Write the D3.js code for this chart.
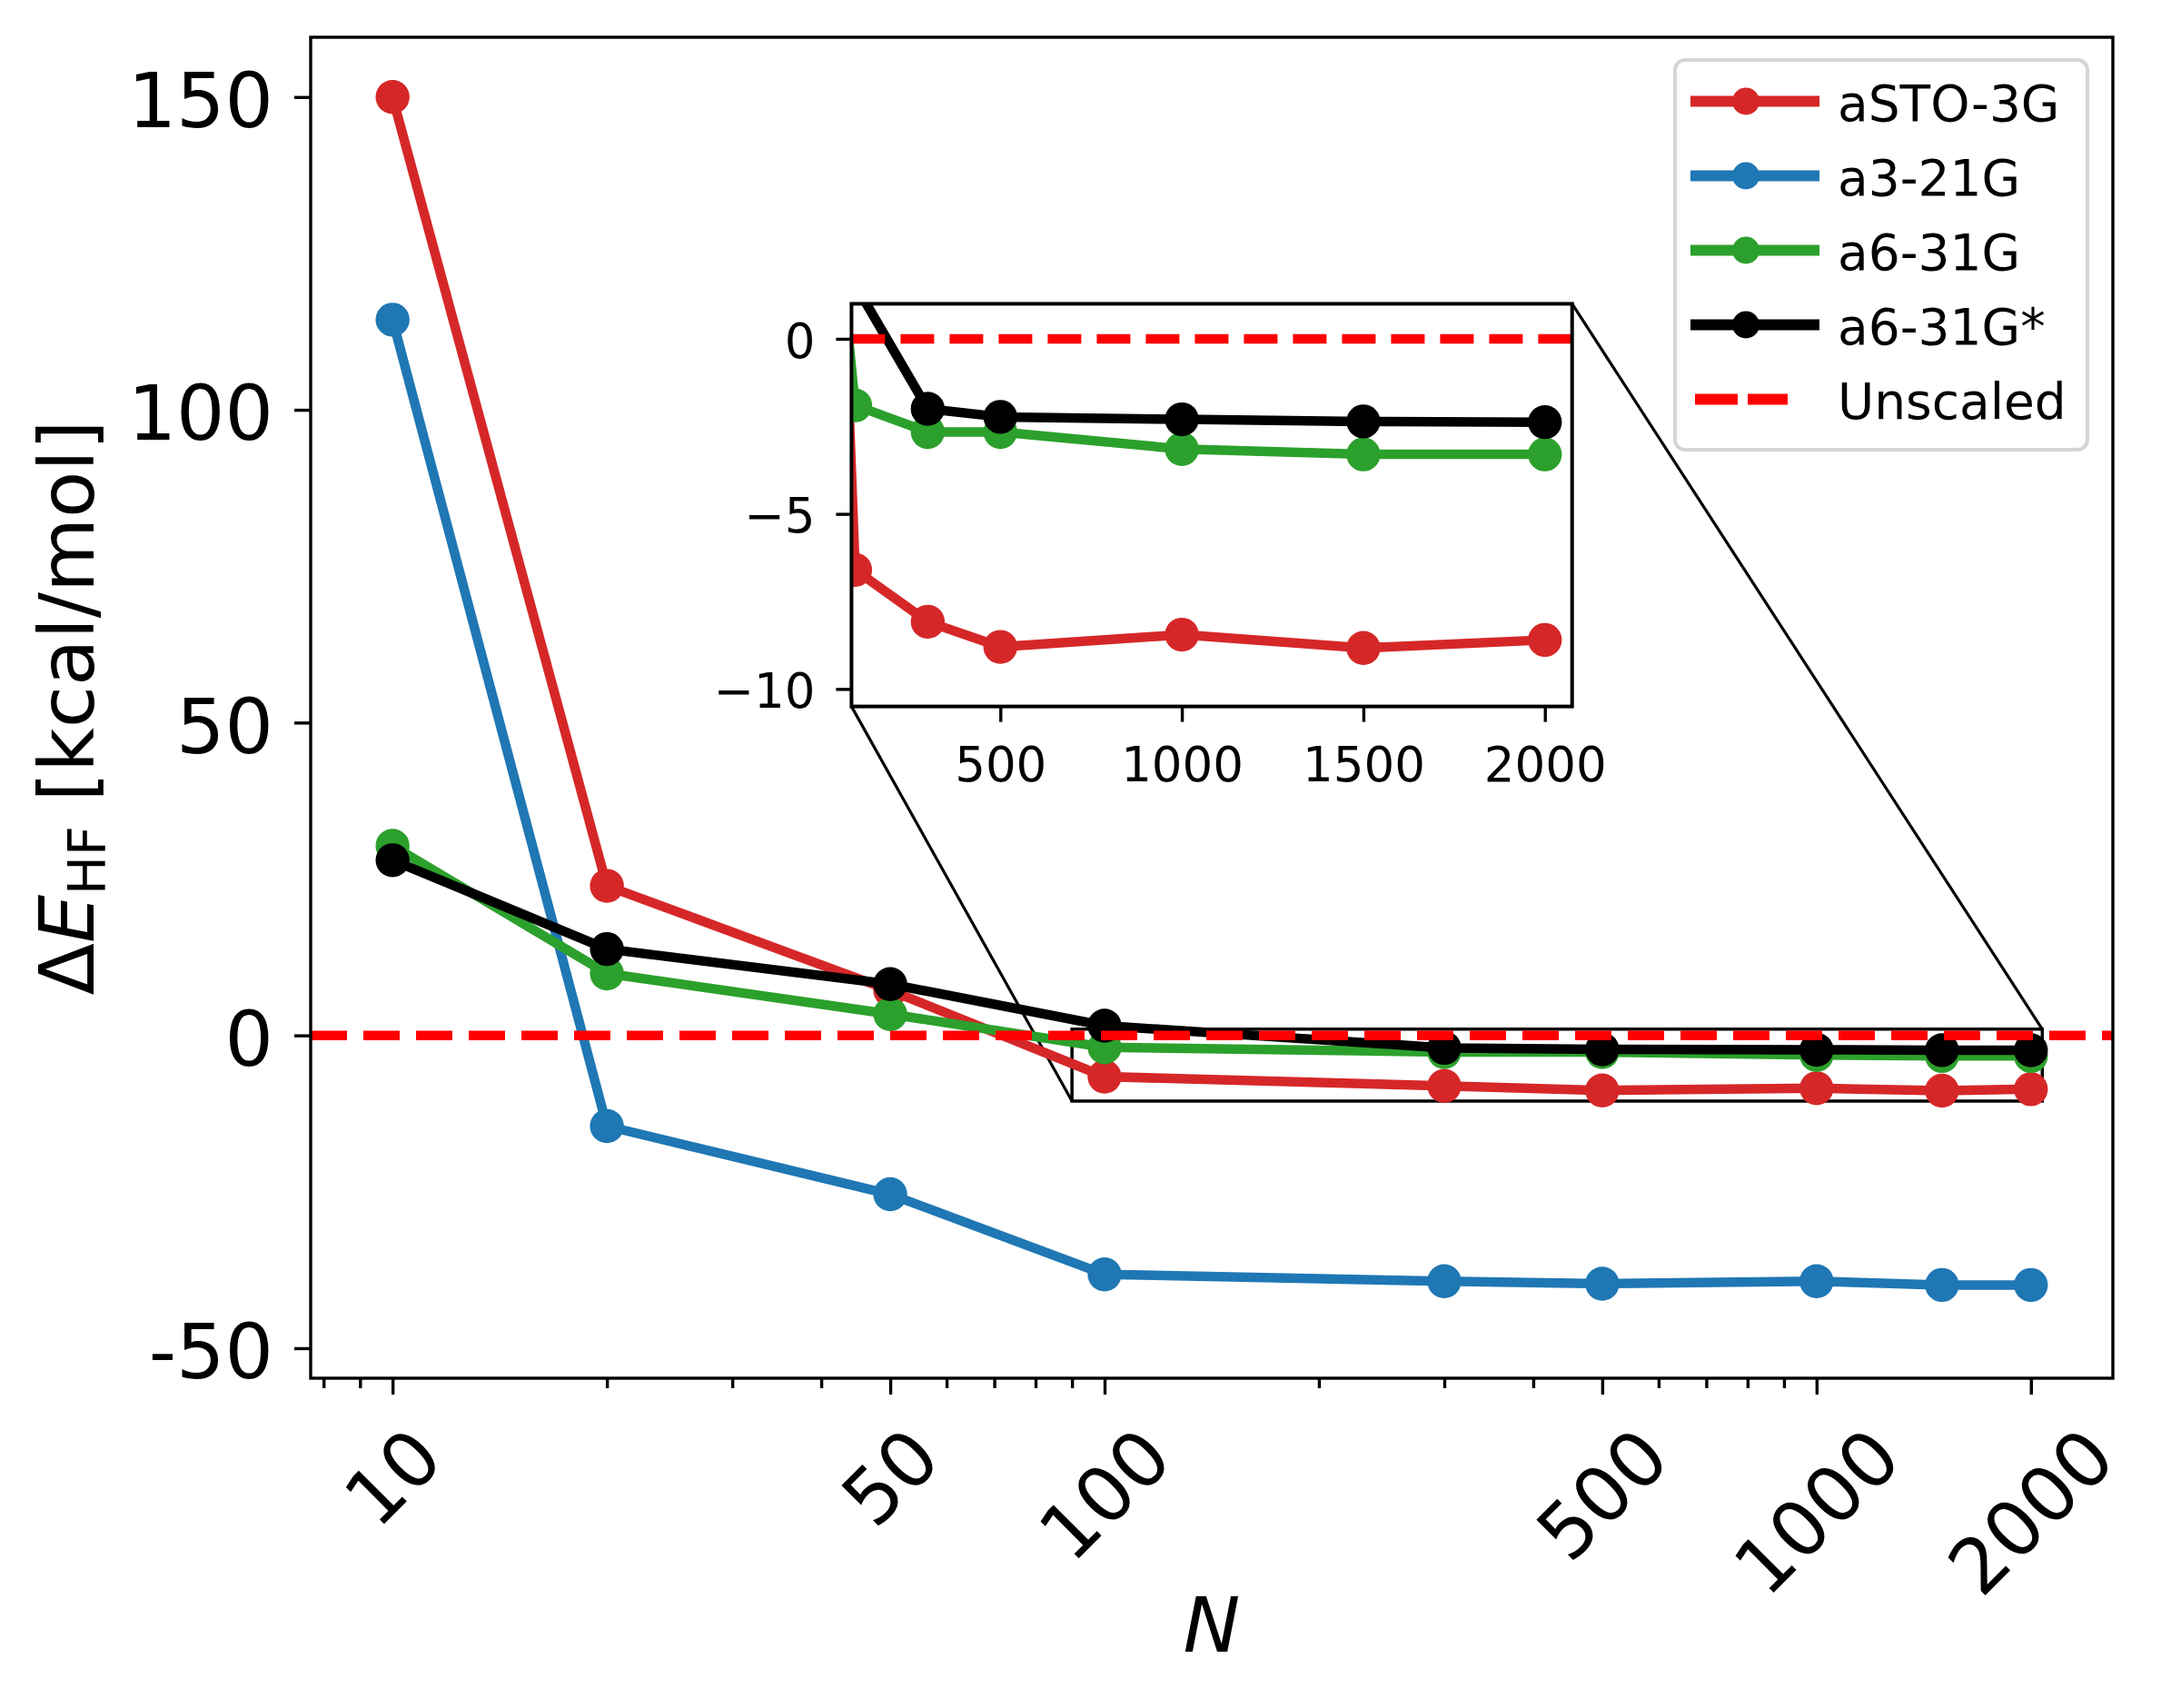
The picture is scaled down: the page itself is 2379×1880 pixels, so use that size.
<!DOCTYPE html>
<html>
<head>
<meta charset="utf-8">
<script src="https://cdn.jsdelivr.net/npm/d3@7"></script>
<style>
  body { margin: 0; background: #fff; }
  text { font-family: "DejaVu Sans", sans-serif; fill: #000; }
</style>
</head>
<body>
<svg id="chart" width="2379" height="1880"></svg>
<script>
// basis set size
const N = [10, 20, 50, 100, 300, 500, 1000, 1500, 2000];

// ΔE_HF in kcal/mol
const aSTO3G = [150.0, 23.9, 7.2, -6.6, -8.08, -8.8, -8.45, -8.83, -8.6];
const a321G = [114.4, -14.5, -25.4, -38.2, -39.3, -39.7, -39.3, -39.9, -39.9];
const a631G = [30.3, 9.9, 3.4, -1.9, -2.66, -2.66, -3.15, -3.3, -3.3];
const a631Gstar = [28.0, 13.8, 8.2, 1.55, -2.0, -2.23, -2.3, -2.36, -2.38];

const seriesNames = ['aSTO-3G', 'a3-21G', 'a6-31G', 'a6-31G*'];
const seriesColors = ['#d62728', '#1f77b4', '#2ca02c', '#000000'];

const xTicks = [10, 50, 100, 500, 1000, 2000];
const xMinorTicks = [8, 9, 20, 30, 40, 60, 70, 80, 90, 200, 300, 400, 600, 700, 800, 900];
const yTicks = [150, 100, 50, 0, -50];
const yTickLabels = ['150', '100', '50', '0', '-50'];

const insetXTicks = [500, 1000, 1500, 2000];
const insetYTicks = [0, -5, -10];
const insetYTickLabels = ['0', '\u22125', '\u221210'];

const series = [aSTO3G, a321G, a631G, a631Gstar].map((vals, i) => ({
  name: seriesNames[i],
  color: seriesColors[i],
  points: N.map((n, j) => ({ n: n, v: vals[j] }))
}));

const svg = d3.select('#chart');

// main axes box
const box = { left: 342, right: 2326, top: 41, bottom: 1517 };
const x = d3.scaleLog().domain([7.673, 2607]).range([box.left, box.right]);
const y = d3.scaleLinear().domain([-54.8, 159.55]).range([box.bottom, box.top]);

svg.append('defs').append('clipPath').attr('id', 'clipMain')
  .append('rect')
  .attr('x', box.left).attr('y', box.top)
  .attr('width', box.right - box.left).attr('height', box.bottom - box.top);

// inset box + zoom window
const ibox = { left: 937.4, right: 1730.7, top: 334.4, bottom: 777.6 };
const insetX = [90, 2075], insetY = [-10.5, 1];
const xi = d3.scaleLinear().domain(insetX).range([ibox.left, ibox.right]);
const yi = d3.scaleLinear().domain(insetY).range([ibox.bottom, ibox.top]);

const main = svg.append('g').attr('clip-path', 'url(#clipMain)');

// zoom rectangle and connector lines
main.append('rect')
  .attr('x', x(insetX[0])).attr('y', y(insetY[1]))
  .attr('width', x(insetX[1]) - x(insetX[0]))
  .attr('height', y(insetY[0]) - y(insetY[1]))
  .attr('fill', 'none').attr('stroke', '#000').attr('stroke-width', 3.5);
main.append('line')
  .attr('x1', ibox.left).attr('y1', ibox.bottom)
  .attr('x2', x(insetX[0])).attr('y2', y(insetY[0]))
  .attr('stroke', '#000').attr('stroke-width', 3.2);
main.append('line')
  .attr('x1', ibox.right).attr('y1', ibox.top)
  .attr('x2', x(insetX[1])).attr('y2', y(insetY[1]))
  .attr('stroke', '#000').attr('stroke-width', 3.2);

const line = d3.line().x(d => x(d.n)).y(d => y(d.v));

series.forEach(s => {
  main.append('path')
    .datum(s.points)
    .attr('d', line)
    .attr('fill', 'none')
    .attr('stroke', s.color)
    .attr('stroke-width', 10.5)
    .attr('stroke-linejoin', 'round');
  main.selectAll(null)
    .data(s.points)
    .enter()
    .append('circle')
    .attr('cx', d => x(d.n))
    .attr('cy', d => y(d.v))
    .attr('r', 18.7)
    .attr('fill', s.color);
});

main.append('line')
  .attr('x1', box.left).attr('x2', box.right)
  .attr('y1', y(0)).attr('y2', y(0))
  .attr('stroke', '#ff0000')
  .attr('stroke-width', 10.5)
  .attr('stroke-dasharray', '40,18');

// axes
const yAxis = svg.append('g')
  .attr('transform', 'translate(' + box.left + ',0)')
  .call(d3.axisLeft(y).tickValues(yTicks).tickSize(18).tickSizeOuter(0).tickPadding(23)
    .tickFormat((d, i) => yTickLabels[i]));
yAxis.selectAll('text').attr('font-size', 84).attr('dy', '0.39em');

const xMinor = svg.append('g')
  .attr('transform', 'translate(0,' + box.bottom + ')')
  .call(d3.axisBottom(x).tickValues(xMinorTicks).tickSize(11).tickSizeOuter(0).tickFormat(''));

const xAxis = svg.append('g')
  .attr('transform', 'translate(0,' + box.bottom + ')')
  .call(d3.axisBottom(x).tickValues(xTicks).tickSize(18).tickSizeOuter(0).tickFormat(d3.format('d')));
xAxis.selectAll('text')
  .attr('font-size', 84)
  .attr('text-anchor', 'middle')
  .attr('y', 0)
  .attr('dy', '0.346em')
  .attr('transform', function () {
    const w = this.getComputedTextLength();
    const h = (w + 1.164 * 84) * Math.SQRT1_2;
    return 'translate(0,' + (37 + h / 2) + ') rotate(-45)';
  });

[yAxis, xMinor, xAxis].forEach(g => {
  g.select('.domain').remove();
  g.selectAll('line').attr('stroke', '#000').attr('stroke-width', 3.4);
});

svg.append('rect')
  .attr('x', box.left).attr('y', box.top)
  .attr('width', box.right - box.left).attr('height', box.bottom - box.top)
  .attr('fill', 'none').attr('stroke', '#000').attr('stroke-width', 3.4);

// axis labels
const ylab = svg.append('text')
  .attr('transform', 'translate(103,779) rotate(-90)')
  .attr('text-anchor', 'middle')
  .attr('font-size', 84);
ylab.append('tspan').text('\u0394');
ylab.append('tspan').attr('font-style', 'italic').text('E');
ylab.append('tspan').attr('font-size', 57).attr('dy', 13).text('HF');
ylab.append('tspan').attr('dy', -13).text(' [kcal/mol]');

svg.append('text')
  .attr('x', (box.left + box.right) / 2)
  .attr('y', 1818)
  .attr('text-anchor', 'middle')
  .attr('font-size', 84)
  .attr('font-style', 'italic')
  .text('N');

// inset
svg.select('defs').append('clipPath').attr('id', 'clipInset')
  .append('rect')
  .attr('x', ibox.left).attr('y', ibox.top)
  .attr('width', ibox.right - ibox.left).attr('height', ibox.bottom - ibox.top);

svg.append('rect')
  .attr('x', ibox.left).attr('y', ibox.top)
  .attr('width', ibox.right - ibox.left).attr('height', ibox.bottom - ibox.top)
  .attr('fill', '#fff');

const inset = svg.append('g').attr('clip-path', 'url(#clipInset)');
const iline = d3.line().x(d => xi(d.n)).y(d => yi(d.v));

series.forEach(s => {
  inset.append('path')
    .datum(s.points)
    .attr('d', iline)
    .attr('fill', 'none')
    .attr('stroke', s.color)
    .attr('stroke-width', 10.5)
    .attr('stroke-linejoin', 'round');
  inset.selectAll(null)
    .data(s.points)
    .enter()
    .append('circle')
    .attr('cx', d => xi(d.n))
    .attr('cy', d => yi(d.v))
    .attr('r', 18.7)
    .attr('fill', s.color);
});

inset.append('line')
  .attr('x1', ibox.left).attr('x2', ibox.right)
  .attr('y1', yi(0)).attr('y2', yi(0))
  .attr('stroke', '#ff0000')
  .attr('stroke-width', 10.5)
  .attr('stroke-dasharray', '37,17');

const iy = svg.append('g')
  .attr('transform', 'translate(' + ibox.left + ',0)')
  .call(d3.axisLeft(yi).tickValues(insetYTicks).tickSize(17).tickSizeOuter(0).tickPadding(23)
    .tickFormat((d, i) => insetYTickLabels[i]));
iy.selectAll('text').attr('font-size', 53).attr('dy', '0.38em');

const ix = svg.append('g')
  .attr('transform', 'translate(0,' + ibox.bottom + ')')
  .call(d3.axisBottom(xi).tickValues(insetXTicks).tickSize(17).tickSizeOuter(0).tickPadding(28)
    .tickFormat(d3.format('d')));
ix.selectAll('text').attr('font-size', 53);

[iy, ix].forEach(g => {
  g.select('.domain').remove();
  g.selectAll('line').attr('stroke', '#000').attr('stroke-width', 3.4);
});

svg.append('rect')
  .attr('x', ibox.left).attr('y', ibox.top)
  .attr('width', ibox.right - ibox.left).attr('height', ibox.bottom - ibox.top)
  .attr('fill', 'none').attr('stroke', '#000').attr('stroke-width', 4);

// legend
const legend = svg.append('g');
legend.append('rect')
  .attr('x', 1844).attr('y', 66)
  .attr('width', 454).attr('height', 429)
  .attr('rx', 11)
  .attr('fill', '#fff').attr('fill-opacity', 0.8)
  .attr('stroke', '#d5d5d5').attr('stroke-width', 4);

const rowY = i => 111.5 + i * 82;

series.forEach((s, i) => {
  const g = legend.append('g').attr('transform', 'translate(0,' + rowY(i) + ')');
  g.append('line')
    .attr('x1', 1861).attr('x2', 2003)
    .attr('stroke', s.color).attr('stroke-width', 12);
  g.append('circle').attr('cx', 1922).attr('r', 15).attr('fill', s.color);
  g.append('text')
    .attr('x', 2023).attr('y', 21)
    .attr('font-size', 55)
    .text(s.name);
});

const lastRow = legend.append('g').attr('transform', 'translate(0,' + rowY(4) + ')');
lastRow.append('line')
  .attr('x1', 1866).attr('x2', 1968)
  .attr('stroke', '#ff0000').attr('stroke-width', 12)
  .attr('stroke-dasharray', '47,11');
lastRow.append('text')
  .attr('x', 2023).attr('y', 21)
  .attr('font-size', 55)
  .text('Unscaled');
</script>
</body>
</html>
